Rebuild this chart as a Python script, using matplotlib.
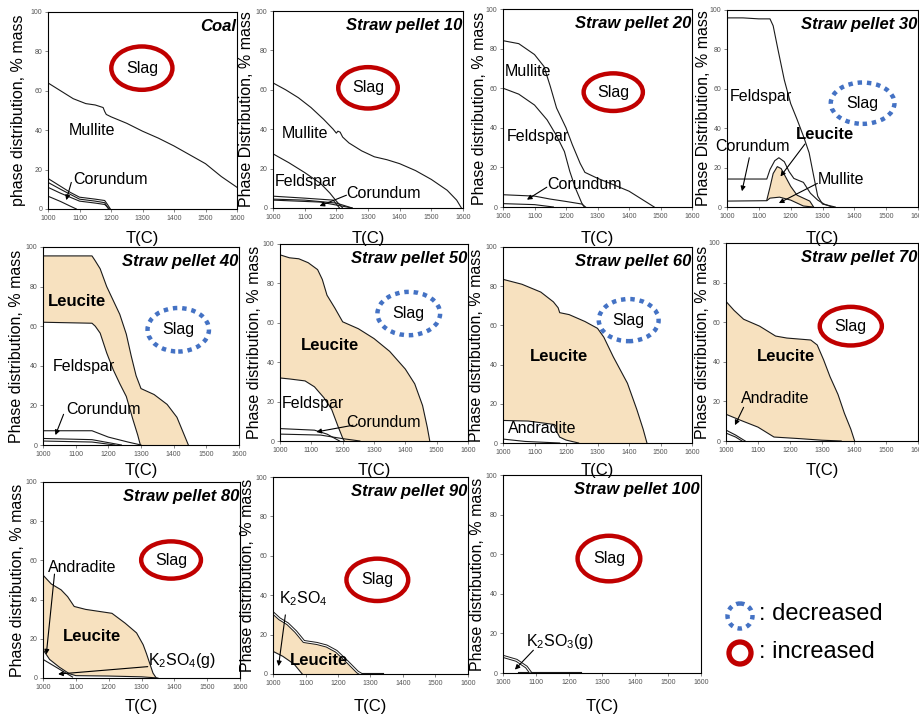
import matplotlib
matplotlib.use("Agg")
import numpy as np
import matplotlib.pyplot as plt
from matplotlib.patches import Ellipse, Circle

plt.rcParams['font.family'] = ['Liberation Sans', 'DejaVu Sans']
plt.rcParams['mathtext.fontset'] = 'custom'
plt.rcParams['mathtext.rm'] = 'Liberation Sans'
plt.rcParams['mathtext.it'] = 'Liberation Sans:italic'
plt.rcParams['mathtext.bf'] = 'Liberation Sans:bold'

W, H = 920, 717

x_ticks = [1000, 1100, 1200, 1300, 1400, 1500, 1600]
x_tick_labels = ["1000", "1100", "1200", "1300", "1400", "1500", "1600"]
y_ticks = [0, 20, 40, 60, 80, 100]
y_tick_labels = ["0", "20", "40", "60", "80", "100"]

# ---- Coal ----
coal_mullite_T = [1000, 1040, 1080, 1120, 1150, 1175, 1180, 1185, 1200, 1250, 1300, 1350, 1400, 1450, 1500, 1550, 1600]
coal_mullite = [64, 60, 56, 53.5, 52.8, 51.5, 49.5, 48, 46.8, 43.5, 39.5, 36, 32, 27.5, 23, 16.5, 11]
coal_c1_T = [1000, 1040, 1070, 1100, 1150, 1180, 1190, 1198]
coal_c1 = [15.5, 11.5, 8.5, 6, 5, 4.3, 2, 0]
coal_c2_T = [1000, 1040, 1070, 1100, 1150, 1180, 1192]
coal_c2 = [13.5, 10, 7.5, 5, 4, 3.2, 0]
coal_c3_T = [1000, 1040, 1070, 1100, 1150, 1180, 1195]
coal_c3 = [11, 8, 6, 4, 3, 2.3, 0]
coal_c4_T = [1000, 1040, 1070, 1090]
coal_c4 = [6.5, 3.8, 1.5, 0]

# ---- Straw pellet 10 ----
sp10_mullite_T = [1000, 1040, 1080, 1120, 1160, 1190, 1200, 1205, 1212, 1220, 1240, 1280, 1300, 1320, 1360, 1400, 1450, 1500, 1550, 1580, 1595]
sp10_mullite = [63.5, 60, 56, 51, 45, 40, 38, 39, 38.5, 36, 33, 29, 27.5, 26, 24.5, 22.5, 19, 14.5, 9, 4, 0]
sp10_feldspar_T = [1000, 1050, 1100, 1150, 1180, 1200, 1220]
sp10_feldspar = [27.5, 23, 18, 12.5, 7.5, 3.5, 0]
sp10_c1_T = [1000, 1100, 1190, 1210]
sp10_c1 = [6, 5, 4, 0]
sp10_c2_T = [1000, 1100, 1200, 1250]
sp10_c2 = [4.5, 4, 2.5, 0]
sp10_c3_T = [1000, 1150, 1200, 1250]
sp10_c3 = [4, 3, 1.5, 0]

# ---- Straw pellet 20 ----
sp20_mullite_T = [1000, 1050, 1100, 1130, 1150, 1170, 1200, 1220, 1245, 1260, 1300, 1350, 1400, 1440, 1480]
sp20_mullite = [84, 82.5, 77, 71, 61, 50, 40, 31.5, 22, 17.5, 14.5, 11.3, 8, 4, 0]
sp20_feldspar_T = [1000, 1050, 1100, 1140, 1170, 1195, 1212, 1230, 1250, 1258]
sp20_feldspar = [60, 57, 51.5, 44, 36, 28, 18, 9.5, 2, 0]
sp20_c1_T = [1000, 1100, 1150, 1200, 1250, 1262]
sp20_c1 = [6.2, 5.5, 4, 2.8, 1.5, 0]
sp20_c2_T = [1000, 1100, 1160]
sp20_c2 = [1.7, 1.2, 0]

# ---- Straw pellet 30 ----
sp30_total_T = [1000, 1050, 1100, 1135, 1145, 1160, 1180, 1200, 1220, 1240, 1258, 1272, 1285, 1300, 1340]
sp30_total = [96, 96, 95.5, 95.5, 92, 80, 64.5, 52.5, 44.5, 36, 27.5, 16, 5.5, 1.5, 0]
sp30_corundum_T = [1000, 1125, 1135, 1150, 1163, 1180, 1195, 1210, 1240, 1262, 1285, 1305, 1330]
sp30_corundum = [14.2, 14.2, 19, 23.5, 25, 23, 18, 14.5, 12.5, 7, 3.5, 1.5, 0]
sp30_base_T = [1000, 1125, 1135, 1165, 1200, 1240, 1270]
sp30_base = [3, 3.2, 4.5, 5, 3.5, 0.5, 0]
sp30_leucite_T = [1125, 1135, 1145, 1158, 1170, 1185, 1200, 1220, 1240, 1260, 1272]
sp30_leucite = [3.5, 10, 17, 20.5, 19.5, 15, 10.5, 6, 4.5, 3, 0]

# ---- Straw pellet 40 ----
sp40_leucite_T = [1000, 1150, 1160, 1175, 1195, 1215, 1235, 1255, 1270, 1285, 1300, 1340, 1380, 1410, 1430, 1445]
sp40_leucite = [95.5, 95.5, 93, 89, 80, 73, 66, 56, 45, 35, 28.5, 25.5, 20.5, 14, 6, 0]
sp40_feldspar_T = [1000, 1150, 1160, 1175, 1195, 1215, 1235, 1255, 1275, 1290, 1298]
sp40_feldspar = [62, 61.5, 60, 56.5, 46.5, 38, 31, 24.5, 13, 5, 0]
sp40_c1_T = [1000, 1150, 1200, 1260, 1300]
sp40_c1 = [7.2, 7.2, 4, 1.5, 0]
sp40_c2_T = [1000, 1150, 1200, 1240]
sp40_c2 = [3.3, 2.7, 1.2, 0]
sp40_c3_T = [1000, 1150, 1220]
sp40_c3 = [2, 1.5, 0]

# ---- Straw pellet 50 ----
sp50_leucite_T = [1000, 1030, 1060, 1090, 1120, 1135, 1150, 1175, 1200, 1250, 1300, 1350, 1400, 1430, 1455, 1470, 1478]
sp50_leucite = [94.5, 93, 92.5, 90.5, 87, 82, 74, 67.5, 60.5, 57, 52, 45.5, 36.5, 29, 18, 7, 0]
sp50_feldspar_T = [1000, 1030, 1080, 1110, 1140, 1165, 1185, 1200, 1205]
sp50_feldspar = [32, 31.5, 30.5, 27.5, 22, 16, 7.5, 1.5, 0]
sp50_c1_T = [1000, 1110, 1150, 1190]
sp50_c1 = [6.3, 5.5, 3.5, 0]
sp50_c2_T = [1000, 1130, 1200, 1255]
sp50_c2 = [3.5, 3, 1.2, 0]

# ---- Straw pellet 60 ----
sp60_leucite_T = [1000, 1060, 1120, 1160, 1175, 1180, 1210, 1260, 1300, 1320, 1350, 1395, 1425, 1445, 1457]
sp60_leucite = [83.5, 81, 77, 72, 69, 66.5, 65.5, 62, 58.5, 54, 44, 30.5, 17, 7, 0]
sp60_andradite_T = [1000, 1080, 1160, 1170, 1180, 1200, 1240]
sp60_andradite = [11.5, 11.2, 9.5, 6, 3, 1.5, 0]
sp60_low_T = [1000, 1070, 1180]
sp60_low = [2, 0.8, 0]

# ---- Straw pellet 70 ----
sp70_leucite_T = [1000, 1025, 1055, 1105, 1155, 1190, 1265, 1285, 1305, 1325, 1350, 1370, 1390, 1402]
sp70_leucite = [70.5, 66, 61.5, 58, 53, 52, 51, 48.5, 41, 32.5, 23.5, 14, 6, 0]
sp70_andradite_T = [1000, 1045, 1100, 1150, 1230, 1300, 1360]
sp70_andradite = [13.5, 10.5, 7, 2, 1.2, 0.4, 0]
sp70_c1_T = [1000, 1030, 1060]
sp70_c1 = [5.5, 3, 0]
sp70_c2_T = [1000, 1030, 1050]
sp70_c2 = [4, 2, 0]

# ---- Straw pellet 80 ----
sp80_leucite_T = [1000, 1025, 1055, 1075, 1095, 1130, 1210, 1250, 1285, 1305, 1315, 1325, 1335, 1345]
sp80_leucite = [52.5, 48, 45, 41.5, 36.5, 35, 33, 28, 23, 17, 12.5, 7.5, 2.5, 0]
sp80_bottom_T = [1000, 1020, 1050, 1080, 1100, 1200, 1300, 1350]
sp80_bottom = [14.5, 9.5, 5.5, 2.2, 1.2, 1, 0.6, 0]
sp80_andradite_T = [1000, 1030, 1060, 1090]
sp80_andradite = [9.5, 6.5, 3.5, 0.5]

# ---- Straw pellet 90 ----
sp90_leucite_T = [1000, 1020, 1045, 1070, 1095, 1135, 1165, 1195, 1230, 1260, 1270]
sp90_leucite = [31, 28, 25.5, 21.5, 16.5, 15.5, 14.2, 11.5, 6, 1, 0]
sp90_bottom_T = [1000, 1030, 1065, 1090]
sp90_bottom = [11.5, 9, 5, 0]
sp90_gas_T = [1260, 1340]
sp90_gas = [0.4, 0.4]

# ---- Straw pellet 100 ----
sp100_k2so3_T = [1000, 1041, 1071, 1082]
sp100_k2so3 = [8.4, 6.4, 3, 0.5]
sp100_gas_T = [1046, 1235]
sp100_gas = [0.4, 0.4]

FILL = '#f7e1bf'
RED = '#c00000'
BLUE = '#4472c4'
LINE = '#1a1a1a'

panels = [
    dict(box=(48, 12, 237, 209), title="Coal", ylab="phase distribution, % mass", ylx=19, xly=238,
         lines=[(coal_mullite_T, coal_mullite), (coal_c1_T, coal_c1), (coal_c2_T, coal_c2),
                (coal_c3_T, coal_c3), (coal_c4_T, coal_c4)],
         fills=[],
         labels=[("Mullite", 1140, 40, False), ("Corundum", 1200, 15, False)],
         arrows=[((1074, 13.5), (1058, 4.5))],
         slag=(1298, 71.5, 194, 22, 'inc')),
    dict(box=(273, 11, 463, 208), title="Straw pellet 10", ylab="Phase Distribution, % mass", ylx=247, xly=238,
         lines=[(sp10_mullite_T, sp10_mullite), (sp10_feldspar_T, sp10_feldspar), (sp10_c1_T, sp10_c1),
                (sp10_c2_T, sp10_c2), (sp10_c3_T, sp10_c3)],
         fills=[],
         labels=[("Mullite", 1100, 38, False), ("Feldspar", 1105, 13.5, False), ("Corundum", 1350, 7.6, False)],
         arrows=[((1232, 6.5), (1147, 1))],
         slag=(1300, 61, 188, 21, 'inc')),
    dict(box=(503, 9, 692, 207), title="Straw pellet 20", ylab="Phase distribution, % mass", ylx=480, xly=238,
         lines=[(sp20_mullite_T, sp20_mullite), (sp20_feldspar_T, sp20_feldspar), (sp20_c1_T, sp20_c1),
                (sp20_c2_T, sp20_c2)],
         fills=[],
         labels=[("Mullite", 1078, 68.5, False), ("Feldspar", 1110, 35.7, False), ("Corundum", 1260, 11.3, False)],
         arrows=[((1139, 10), (1076, 3.7))],
         slag=(1350, 58, 188, 19, 'inc')),
    dict(box=(727, 10, 918, 207), title="Straw pellet 30", ylab="Phase Distribution, % mass", ylx=704, xly=238,
         lines=[(sp30_total_T, sp30_total), (sp30_corundum_T, sp30_corundum), (sp30_base_T, sp30_base),
                (sp30_leucite_T, sp30_leucite)],
         fills=[(sp30_leucite_T, sp30_leucite, sp30_base_T[1:], sp30_base[1:])],
         labels=[("Feldspar", 1107, 56, False), ("Leucite", 1307, 36.7, True), ("Corundum", 1081, 30.7, False),
                 ("Mullite", 1358, 13.9, False)],
         arrows=[((1070, 25), (1047, 8)), ((1284, 12), (1163, 2)), ((1245, 32), (1168, 15.5))],
         slag=(1426, 52.7, 200, 21, 'dec')),
    dict(box=(43, 247, 239, 445), title="Straw pellet 40", ylab="Phase distribution, % mass", ylx=17, xly=470,
         lines=[(sp40_leucite_T, sp40_leucite), (sp40_feldspar_T, sp40_feldspar), (sp40_c1_T, sp40_c1),
                (sp40_c2_T, sp40_c2), (sp40_c3_T, sp40_c3)],
         fills=[(sp40_leucite_T, sp40_leucite, sp40_feldspar_T, sp40_feldspar)],
         labels=[("Leucite", 1104, 72.5, True), ("Feldspar", 1126, 39.6, False), ("Corundum", 1185, 17.7, False)],
         arrows=[((1063, 15.5), (1038, 5))],
         slag=(1414, 58.2, 188, 22, 'dec')),
    dict(box=(280, 244, 468, 441), title="Straw pellet 50", ylab="Phase distribution, % mass", ylx=255, xly=470,
         lines=[(sp50_leucite_T, sp50_leucite), (sp50_feldspar_T, sp50_feldspar), (sp50_c1_T, sp50_c1),
                (sp50_c2_T, sp50_c2)],
         fills=[(sp50_leucite_T, sp50_leucite, sp50_feldspar_T, sp50_feldspar)],
         labels=[("Leucite", 1159, 48.6, True), ("Feldspar", 1106, 19, False), ("Corundum", 1329, 9.2, False)],
         arrows=[((1233, 8), (1116, 4.6))],
         slag=(1411, 64.7, 200, 22, 'dec')),
    dict(box=(503, 247, 692, 443), title="Straw pellet 60", ylab="Phase distribution, % mass", ylx=477, xly=470,
         lines=[(sp60_leucite_T, sp60_leucite), (sp60_andradite_T, sp60_andradite), (sp60_low_T, sp60_low)],
         fills=[(sp60_leucite_T, sp60_leucite, sp60_andradite_T, sp60_andradite)],
         labels=[("Leucite", 1179, 44, True), ("Andradite", 1123, 7.3, False)],
         arrows=[],
         slag=(1399, 62.7, 190, 21.5, 'dec')),
    dict(box=(726, 243, 918, 441), title="Straw pellet 70", ylab="Phase distribution, % mass", ylx=703, xly=470,
         lines=[(sp70_leucite_T, sp70_leucite), (sp70_andradite_T, sp70_andradite), (sp70_c1_T, sp70_c1),
                (sp70_c2_T, sp70_c2)],
         fills=[(sp70_leucite_T, sp70_leucite, sp70_andradite_T, sp70_andradite)],
         labels=[("Leucite", 1188, 42.6, True), ("Andradite", 1155, 21.5, False)],
         arrows=[((1055, 17), (1028, 8))],
         slag=(1390, 58, 194, 19.5, 'inc')),
    dict(box=(43, 482, 240, 678), title="Straw pellet 80", ylab="Phase distribution, % mass", ylx=18, xly=707,
         lines=[(sp80_leucite_T, sp80_leucite), (sp80_bottom_T, sp80_bottom), (sp80_andradite_T, sp80_andradite)],
         fills=[(sp80_leucite_T, sp80_leucite, sp80_bottom_T, sp80_bottom)],
         labels=[("Andradite", 1119, 56.4, False), ("Leucite", 1149, 21.2, True)],
         arrows=[((1035, 53), (1010, 12)), ((1319, 5.8), (1046, 2))],
         ktext=(r"K$_\mathregular{2}$SO$_\mathregular{4}$(g)", 1319, 9),
         slag=(1390, 60.2, 182, 19, 'inc')),
    dict(box=(273, 477, 468, 674), title="Straw pellet 90", ylab="Phase distribution, % mass", ylx=248, xly=707,
         lines=[(sp90_bottom_T, sp90_bottom), (sp90_gas_T, sp90_gas)],
         double=[(sp90_leucite_T, sp90_leucite)],
         fills=[(sp90_leucite_T, sp90_leucite, sp90_bottom_T, sp90_bottom)],
         labels=[("Leucite", 1143, 7.1, True)],
         arrows=[((1038, 30), (1017, 4))],
         ktext=(r"K$_\mathregular{2}$SO$_\mathregular{4}$", 1017, 38),
         slag=(1321, 47.8, 190, 21.5, 'inc')),
    dict(box=(503, 475, 701, 673), title="Straw pellet 100", ylab="Phase distribution, % mass", ylx=478, xly=707,
         lines=[(sp100_gas_T, sp100_gas)],
         double=[(sp100_k2so3_T, sp100_k2so3)],
         fills=[],
         labels=[],
         arrows=[((1092, 11.5), (1036, 1.7))],
         ktext=(r"K$_\mathregular{2}$SO$_\mathregular{3}$(g)", 1071, 16),
         slag=(1321, 57.8, 190, 23, 'inc')),
]

fig = plt.figure(figsize=(W / 100, H / 100), dpi=100)

for p in panels:
    l, t, r, b = p['box']
    ax = fig.add_axes([l / W, 1 - b / H, (r - l) / W, (b - t) / H])
    ax.set_xlim(1000, 1600)
    ax.set_ylim(0, 100)
    ax.set_xticks(x_ticks)
    ax.set_xticklabels(x_tick_labels)
    ax.set_yticks(y_ticks)
    ax.set_yticklabels(y_tick_labels)
    ax.tick_params(labelsize=5, colors='#555555', length=2, width=0.5, pad=2)
    for s in ax.spines.values():
        s.set_linewidth(0.8)
        s.set_color('black')

    for topT, top, botT, bot in p['fills']:
        xs = np.concatenate([topT, botT[::-1]])
        ys = np.concatenate([top, bot[::-1]])
        ax.fill(xs, ys, color=FILL, lw=0, zorder=1)
    for xs, ys in p['lines']:
        ax.plot(xs, ys, color=LINE, lw=0.8, zorder=2)
    for xs, ys in p.get('double', []):
        ax.plot(xs, ys, color=LINE, lw=2.2, zorder=2)
        ax.plot(xs, ys, color='white', lw=0.8, zorder=2)

    for txt, x, y, bold in p['labels']:
        ax.text(x, y, txt, ha='center', va='center', fontsize=12 if bold else 11.5,
                fontweight='bold' if bold else 'normal', zorder=4)
    if 'ktext' in p:
        txt, x, y = p['ktext']
        ax.text(x, y, txt, ha='left', va='center', fontsize=11.5, zorder=4)
    for (x0, y0), (x1, y1) in p['arrows']:
        ax.annotate("", xy=(x1, y1), xytext=(x0, y0),
                    arrowprops=dict(arrowstyle='-|>', color='black', lw=0.8, mutation_scale=7,
                                    shrinkA=0, shrinkB=0), zorder=5)

    cx, cy, ew, eh, kind = p['slag']
    if kind == 'inc':
        e = Ellipse((cx, cy), ew, eh, fill=False, ec=RED, lw=3.2, zorder=3)
    else:
        e = Ellipse((cx, cy), ew, eh, fill=False, ec=BLUE, lw=3.2, ls=(0, (1, 1.1)), zorder=3)
    ax.add_patch(e)
    ax.text(cx, cy, "Slag", ha='center', va='center', fontsize=11.5, zorder=4)

    ax.text(0.995, 0.925, p['title'], transform=ax.transAxes, ha='right', va='center',
            fontsize=12, fontweight='bold', fontstyle='italic', zorder=6)

    fig.text(p['ylx'] / W, 1 - (t + b) / 2 / H, p['ylab'], rotation=90, ha='center', va='center', fontsize=11.5)
    fig.text((l + r) / 2 / W, 1 - p['xly'] / H, "T(C)", ha='center', va='center', fontsize=12)

# legend drawn in pixel space
lg = fig.add_axes([0, 0, 1, 1])
lg.set_xlim(0, W)
lg.set_ylim(H, 0)
lg.axis('off')
lg.add_patch(Circle((740, 616), 12.5, fill=False, ec=BLUE, lw=3.2, ls=(0, (1, 1.1))))
lg.add_patch(Circle((740, 653), 11, fill=False, ec=RED, lw=3.8))
lg.text(759, 614, ": decreased", ha='left', va='center', fontsize=17)
lg.text(759, 652, ": increased", ha='left', va='center', fontsize=17)

fig.savefig("out.png", dpi=100, facecolor='white')
